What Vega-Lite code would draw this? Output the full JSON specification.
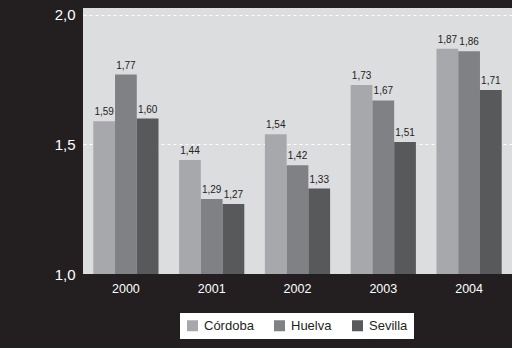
{
  "$schema": "https://vega.github.io/schema/vega-lite/v6.json",
  "width": 429,
  "height": 266,
  "autosize": {"type": "none"},
  "padding": {"left": 83, "top": 8, "right": 0, "bottom": 74},
  "background": "#231f20",
  "config": {
    "locale": {"number": {"decimal": ",", "thousands": ".", "grouping": [3], "currency": ["", " €"]}},
    "view": {"fill": "#dcdddf", "stroke": null},
    "font": "Liberation Sans"
  },
  "data": {
    "values": [
      {"year": "2000", "city": "Córdoba", "value": 1.59},
      {"year": "2000", "city": "Huelva", "value": 1.77},
      {"year": "2000", "city": "Sevilla", "value": 1.60},
      {"year": "2001", "city": "Córdoba", "value": 1.44},
      {"year": "2001", "city": "Huelva", "value": 1.29},
      {"year": "2001", "city": "Sevilla", "value": 1.27},
      {"year": "2002", "city": "Córdoba", "value": 1.54},
      {"year": "2002", "city": "Huelva", "value": 1.42},
      {"year": "2002", "city": "Sevilla", "value": 1.33},
      {"year": "2003", "city": "Córdoba", "value": 1.73},
      {"year": "2003", "city": "Huelva", "value": 1.67},
      {"year": "2003", "city": "Sevilla", "value": 1.51},
      {"year": "2004", "city": "Córdoba", "value": 1.87},
      {"year": "2004", "city": "Huelva", "value": 1.86},
      {"year": "2004", "city": "Sevilla", "value": 1.71}
    ]
  },
  "encoding": {
    "x": {
      "field": "year", "type": "nominal", "title": null,
      "scale": {"paddingInner": 0.24, "paddingOuter": 0.12},
      "axis": {"labelAngle": 0, "ticks": false, "domain": false, "labelColor": "white", "labelFontSize": 12.5, "labelPadding": 8}
    },
    "xOffset": {"field": "city", "type": "nominal", "scale": {"paddingInner": 0}},
    "y": {
      "field": "value", "type": "quantitative", "title": null,
      "scale": {"domain": [1, 2.027], "zero": false, "nice": false},
      "axis": {"values": [1, 1.5, 2], "format": ".1f", "ticks": false, "domain": false, "labelColor": "white", "labelFontSize": 15, "labelPadding": 8, "gridColor": "white", "gridDash": [3, 3], "gridWidth": 1, "gridOpacity": {"condition": {"test": "datum.value == 1", "value": 0}, "value": 1}}
    }
  },
  "layer": [
    {
      "mark": {"type": "bar"},
      "encoding": {
        "y2": {"datum": 1},
        "color": {
          "field": "city", "type": "nominal", "title": null,
          "scale": {"domain": ["Córdoba", "Huelva", "Sevilla"], "range": ["#a7a8ab", "#808184", "#58595b"]},
          "legend": {
            "orient": "none", "direction": "horizontal", "legendX": 97, "legendY": 305,
            "fillColor": "white", "padding": 6, "columnPadding": 19,
            "symbolType": "square", "symbolSize": 121, "symbolStrokeWidth": 0, "symbolOpacity": 1,
            "labelFontSize": 13, "labelColor": "#231f20", "labelOffset": 5
          }
        }
      }
    },
    {
      "mark": {"type": "text", "baseline": "bottom", "dy": -4, "fontSize": 10, "font": "Liberation Sans Narrow, Liberation Sans", "color": "#222222"},
      "encoding": {
        "text": {"field": "value", "type": "quantitative", "format": ".2f"}
      }
    }
  ]
}
